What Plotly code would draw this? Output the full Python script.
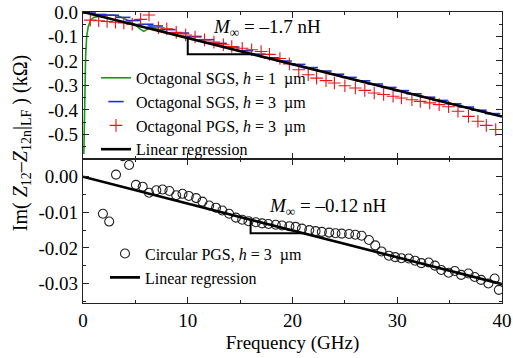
import plotly.graph_objects as go

# ---------------- data ----------------
# Top panel: Octagonal SGS h=1 um (green line)
sgs1_f = [0.08, 0.12, 0.18, 0.25, 0.35, 0.5, 0.7, 1.0, 1.5, 2.0, 2.5, 3.0, 3.5, 4.0, 4.5,
          5.0, 5.4, 5.8, 6.1, 6.5, 7.0, 8.0, 10.0, 15.0, 20.0, 25.0, 30.0, 35.0, 40.0]
sgs1_z = [-0.58, -0.45, -0.30, -0.18, -0.10, -0.06, -0.035, -0.022, -0.018, -0.015, -0.012,
          -0.013, -0.018, -0.028, -0.040, -0.052, -0.068, -0.079, -0.072, -0.062, -0.068,
          -0.083, -0.105, -0.158, -0.212, -0.266, -0.319, -0.373, -0.426]

# Top panel: Octagonal SGS h=3 um (blue dashes)
sgs3_f = [0.5, 1.5, 2.7, 3.8, 4.8, 6.0, 6.9, 8.1, 9.4, 10.6, 11.8, 13.0, 14.2, 15.5, 16.7,
          18.0, 19.2, 20.5, 21.7, 23.0, 24.2, 25.4, 26.7, 27.9, 29.2, 30.4, 31.6, 32.9, 34.1,
          35.4, 36.6, 37.8, 39.1]
sgs3_z = [-0.004, -0.010, -0.013, -0.022, -0.035, -0.050, -0.057, -0.072, -0.086, -0.100,
          -0.113, -0.128, -0.143, -0.158, -0.172, -0.187, -0.200, -0.214, -0.227, -0.241,
          -0.254, -0.267, -0.281, -0.294, -0.308, -0.321, -0.334, -0.348, -0.361, -0.375,
          -0.388, -0.401, -0.415]

# Top panel: Octagonal PGS h=3 um (red crosses)
pgs_f = [0.7, 1.5, 2.3, 3.1, 3.9, 4.7, 5.5, 6.3, 7.2, 8.0, 8.9, 9.8, 10.7, 11.6, 12.5, 13.4,
         14.2, 15.2, 16.1, 17.0, 17.8, 18.8, 19.7, 20.6, 21.5, 22.3, 23.2, 24.0, 25.0, 26.0,
         26.9, 27.8, 28.7, 29.6, 30.4, 31.4, 32.2, 33.1, 34.0, 34.9, 35.8, 36.8, 37.7, 38.5,
         39.4]
pgs_z = [-0.033, -0.036, -0.039, -0.042, -0.045, -0.050, -0.030, -0.012, -0.064, -0.069,
         -0.083, -0.094, -0.102, -0.114, -0.123, -0.134, -0.141, -0.148, -0.154, -0.161,
         -0.173, -0.190, -0.212, -0.236, -0.256, -0.270, -0.280, -0.290, -0.301, -0.310,
         -0.320, -0.331, -0.337, -0.344, -0.351, -0.358, -0.365, -0.371, -0.378, -0.387,
         -0.405, -0.426, -0.446, -0.463, -0.480]

# Top panel regression (M = -1.7 nH)
reg_top_f = [0.0, 40.0]
reg_top_z = [0.0, -0.427]

# Bottom panel: Circular PGS h=3 um (open circles)
circ_f = [1.9, 2.5, 3.15, 3.8, 4.4, 5.05, 5.7, 6.3, 7.0, 7.6, 8.25, 8.9, 9.5, 10.1, 10.8,
          11.4, 12.05, 12.7, 13.3, 13.95, 14.6, 15.2, 15.8, 16.5, 17.1, 17.7, 18.4, 19.0,
          19.7, 20.3, 20.9, 21.6, 22.2, 22.8, 23.5, 24.1, 24.7, 25.4, 26.0, 26.6, 27.3,
          27.9, 28.5, 29.2, 29.8, 30.4, 31.1, 31.7, 32.3, 33.0, 33.6, 34.2, 34.9, 35.5,
          36.1, 36.8, 37.4, 38.0, 38.7, 39.3, 39.7]
circ_z = [-0.0104, -0.0126, 0.0006, 0.0058, 0.0033, -0.0023, -0.0028, -0.0045, -0.0038,
          -0.0036, -0.0040, -0.0052, -0.0048, -0.0054, -0.0060, -0.0070, -0.0081, -0.0087,
          -0.0095, -0.0104, -0.0115, -0.0121, -0.0125, -0.0128, -0.0131, -0.0133, -0.0135,
          -0.0137, -0.0139, -0.0141, -0.0146, -0.0150, -0.0153, -0.0155, -0.0157, -0.0159,
          -0.0160, -0.0161, -0.0163, -0.0166, -0.0178, -0.0193, -0.0210, -0.0222, -0.0226,
          -0.0229, -0.0230, -0.0236, -0.0243, -0.0241, -0.0250, -0.0262, -0.0270, -0.0265,
          -0.0276, -0.0272, -0.0282, -0.0290, -0.0300, -0.0286, -0.0318]

# Bottom panel regression (M = -0.12 nH)
reg_bot_f = [0.0, 40.0]
reg_bot_z = [0.0, -0.0302]

x_ticks = [0, 10, 20, 30, 40]
top_ticks = [0.0, -0.1, -0.2, -0.3, -0.4, -0.5]
top_ticklabels = ["0.0", "-0.1", "-0.2", "-0.3", "-0.4", "-0.5"]
bot_ticks = [0.0, -0.01, -0.02, -0.03]
bot_ticklabels = ["0.00", "-0.01", "-0.02", "-0.03"]

# ---------------- figure ----------------
FONT = "Liberation Serif"
AX = "#222222"

fig = go.Figure()

fig.add_trace(go.Scatter(x=sgs1_f, y=sgs1_z, xaxis="x2", yaxis="y2", mode="lines",
                         line=dict(color="#169a16", width=1.6),
                         name="Octagonal SGS, <i>h</i> = 1  µm", legend="legend"))
fig.add_trace(go.Scatter(x=sgs3_f, y=sgs3_z, xaxis="x2", yaxis="y2", mode="markers",
                         marker=dict(symbol="line-ew", size=11, color="#1f2fd0",
                                     line=dict(color="#1f2fd0", width=1.6)),
                         name="Octagonal SGS, <i>h</i> = 3  µm", legend="legend"))
fig.add_trace(go.Scatter(x=pgs_f, y=pgs_z, xaxis="x2", yaxis="y2", mode="markers",
                         marker=dict(symbol="cross-thin", size=9, color="#ee1111",
                                     line=dict(color="#ee1111", width=1.1)),
                         name="Octagonal PGS, <i>h</i> = 3  µm", legend="legend"))
fig.add_trace(go.Scatter(x=reg_top_f, y=reg_top_z, xaxis="x2", yaxis="y2", mode="lines",
                         line=dict(color="black", width=2.6),
                         name="Linear regression", legend="legend"))

fig.add_trace(go.Scatter(x=circ_f, y=circ_z, xaxis="x", yaxis="y", mode="markers",
                         marker=dict(symbol="circle-open", size=9, color="#222222",
                                     line=dict(color="#222222", width=1.1)),
                         name="Circular PGS, <i>h</i> = 3  µm", legend="legend2"))
fig.add_trace(go.Scatter(x=reg_bot_f, y=reg_bot_z, xaxis="x", yaxis="y", mode="lines",
                         line=dict(color="black", width=2.6),
                         name="Linear regression", legend="legend2"))

# slope triangles
s_top = reg_top_z[1] / reg_top_f[1]
s_bot = reg_bot_z[1] / reg_bot_f[1]
fig.add_shape(type="path", xref="x2", yref="y2",
              path=f"M 10,{10*s_top} L 10,{16.2*s_top} L 16.2,{16.2*s_top}",
              line=dict(color="black", width=2))
fig.add_shape(type="path", xref="x", yref="y",
              path=f"M 16,{16*s_bot} L 16,{21*s_bot} L 21,{21*s_bot}",
              line=dict(color="black", width=2))

axis_common = dict(showline=True, linecolor=AX, linewidth=1.3, mirror="allticks",
                   ticks="inside", ticklen=6, tickwidth=1.2, tickcolor=AX,
                   showgrid=False, zeroline=False, automargin=False,
                   ticklabeloverflow="allow",
                   tickfont=dict(family=FONT, size=19, color="black"))

fig.update_layout(
    template="none",
    width=513, height=358,
    margin=dict(l=83, r=11, t=12, b=55, autoexpand=False),
    paper_bgcolor="white", plot_bgcolor="white",
    font=dict(family=FONT, color="black"),
    xaxis=dict(anchor="y", domain=[0, 1], range=[0, 40], tickvals=x_ticks,
               minor=dict(dtick=5, ticks="inside", ticklen=3, tickcolor=AX),
               title=dict(text="Frequency (GHz)", font=dict(family=FONT, size=19),
                          standoff=5),
               **axis_common),
    xaxis2=dict(anchor="y2", domain=[0, 1], range=[0, 40], tickvals=x_ticks,
                showticklabels=False, matches="x",
                minor=dict(dtick=5, ticks="inside", ticklen=3, tickcolor=AX),
                **axis_common),
    yaxis=dict(anchor="x", domain=[0, 0.495], range=[-0.0355, 0.005],
               tickvals=bot_ticks, ticktext=bot_ticklabels,
               minor=dict(tickvals=[-0.035, -0.025, -0.015, -0.005, 0.005], ticks="inside",
                          ticklen=3, tickcolor=AX),
               **axis_common),
    yaxis2=dict(anchor="x2", domain=[0.495, 1], range=[-0.6, 0.0],
                tickvals=top_ticks, ticktext=top_ticklabels,
                minor=dict(tickvals=[-0.55, -0.45, -0.35, -0.25, -0.15, -0.05], ticks="inside",
                           ticklen=3, tickcolor=AX),
                **axis_common),
    legend=dict(x=0.031, y=0.832, xanchor="left", yanchor="top", bgcolor="rgba(0,0,0,0)",
                borderwidth=0, font=dict(family=FONT, size=16), itemwidth=30,
                tracegroupgap=0),
    legend2=dict(x=0.0525, y=0.228, xanchor="left", yanchor="top", bgcolor="rgba(0,0,0,0)",
                 borderwidth=0, font=dict(family=FONT, size=16), itemwidth=30,
                 tracegroupgap=0),
    showlegend=True,
)

fig.add_annotation(text="<i>M</i><sub>∞</sub> = –1.7 nH", xref="x2", yref="y2",
                   x=12.2, y=-0.065, xanchor="left", yanchor="middle", showarrow=False,
                   font=dict(family=FONT, size=19, color="black"))
fig.add_annotation(text="<i>M</i><sub>∞</sub> = –0.12 nH", xref="x", yref="y",
                   x=17.6, y=-0.0085, xanchor="left", yanchor="middle", showarrow=False,
                   font=dict(family=FONT, size=19, color="black"))
fig.add_annotation(text="Im( <i>Z</i><sub>12</sub>–<i>Z</i><sub>12n</sub>|<sub>LF</sub> ) (kΩ)",
                   xref="paper", yref="paper", x=-0.145, y=0.55, textangle=-90,
                   xanchor="center", yanchor="middle", showarrow=False,
                   font=dict(family=FONT, size=20, color="black"))

# remove the default page margin so the 513x358 figure fills the window exactly
fig.write_html("out.html", config={"displayModeBar": False},
               post_script="document.body.style.margin='0';document.body.style.overflow='hidden';")
